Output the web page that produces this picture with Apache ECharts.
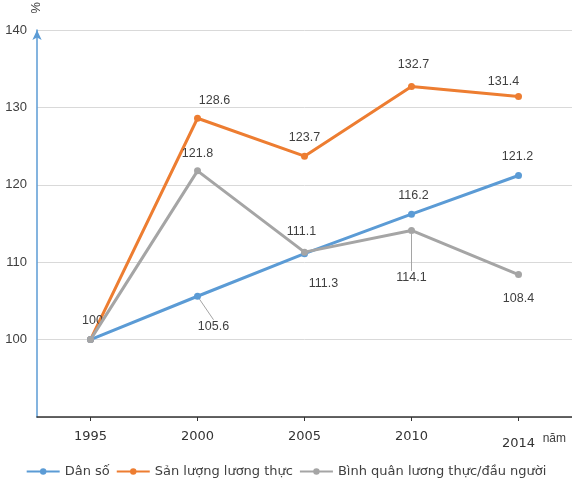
<!DOCTYPE html>
<html><head><meta charset="utf-8">
<script src="https://cdn.jsdelivr.net/npm/echarts@6/dist/echarts.min.js"></script>
<style>html,body{margin:0;padding:0;background:#fff}#c{width:572px;height:481px}</style>
</head><body><div id="c"></div>
<script>
const years = ['1995', '2000', '2005', '2010', '2014'];
const danSo = [100, 105.6, 111.1, 116.2, 121.2];
const sanLuong = [100, 128.6, 123.7, 132.7, 131.4];
const binhQuan = [100, 121.8, 111.3, 114.1, 108.4];
const seriesNames = ['Dân số', 'Sản lượng lương thực', 'Bình quân lương thực/đầu người'];
const yTicks = [90, 100, 110, 120, 130, 140];

const font = 'Liberation Sans, Arial, sans-serif';
const dfont = 'DejaVu Sans, sans-serif';
const labelStyle = { show: true, position: 'top', distance: 9, color: '#404040', fontSize: 12.5, fontFamily: font };
const guide = { show: true, lineStyle: { color: '#A5A5A5', width: 1 } };

// per-point label placement tweaks (styling only)
const blueLabel = [{}, {}, {}, {}, {}];
const blueShift = [[2, 0], [16, 49], [-3, -3], [2, 0], [-1, 0]];
const blueGuide = [false, true, false, false, false];
const orangeLabel = [{ show: false }, {}, {}, {}, {}];
const orangeShift = [[0, 0], [17, 1], [0, 0], [2, -3], [-15, 4]];
const grayLabel = [{ show: false }, {}, { position: 'bottom' }, { position: 'bottom' }, { position: 'bottom' }];
const grayShift = [[0, 0], [0, 2], [19, 12], [0, 28], [0, 5]];
const grayGuide = [false, false, false, true, false];

function build(values, tweaks, guides) {
  return values.map((v, i) => ({
    value: v, label: tweaks[i],
    labelLine: guides && guides[i] ? guide : { show: false }
  }));
}
function shifter(shifts) {
  return p => ({ dx: shifts[p.dataIndex][0], dy: shifts[p.dataIndex][1] });
}

const chart = echarts.init(document.getElementById('c'));
chart.setOption({
  animation: false,
  backgroundColor: '#fff',
  grid: { left: 37, right: 0, top: 30, bottom: 64, containLabel: false },
  legend: {
    top: 460, left: 'center', itemWidth: 33, itemHeight: 8, itemGap: 6,
    textStyle: { color: '#404040', fontSize: 13, fontFamily: dfont },
    data: seriesNames
  },
  xAxis: {
    type: 'category',
    data: years.map((y, i) => (i === years.length - 1 ? { value: y, textStyle: { padding: [7, 0, 0, 0] } } : y)),
    boundaryGap: true,
    axisLine: { lineStyle: { color: '#333', width: 1.5 } },
    axisTick: { show: true, alignWithLabel: true, length: 4, lineStyle: { color: '#333' } },
    axisLabel: { color: '#333', fontSize: 13, fontFamily: dfont, margin: 13 },
    splitLine: { show: false }
  },
  yAxis: {
    type: 'value', min: yTicks[0], max: yTicks[yTicks.length - 1], interval: 10,
    axisLine: { show: true, symbol: ['none', 'arrow'], symbolSize: [7, 10], lineStyle: { color: '#5B9BD5', width: 1.5 } },
    axisTick: { show: false },
    axisLabel: { color: '#404040', fontSize: 13, fontFamily: font, margin: 10,
      formatter: v => (v === yTicks[0] ? '' : String(v)) },
    splitLine: { lineStyle: { color: '#d9d9d9', width: 1 } }
  },
  graphic: [
    { type: 'text', left: 28, top: 2, rotation: -Math.PI / 2,
      style: { text: '%', fill: '#404040', fontSize: 13, fontFamily: font } },
    { type: 'text', right: 6, top: 433,
      style: { text: 'năm', fill: '#404040', fontSize: 12, fontFamily: font } }
  ],
  series: [
    {
      name: seriesNames[0], type: 'line', data: build(danSo, blueLabel, blueGuide),
      symbol: 'circle', symbolSize: 7,
      itemStyle: { color: '#5B9BD5' }, lineStyle: { width: 3, color: '#5B9BD5' },
      label: labelStyle, labelLine: { show: false },
      labelLayout: shifter(blueShift),
      z: 3
    },
    {
      name: seriesNames[1], type: 'line', data: build(sanLuong, orangeLabel, null),
      symbol: 'circle', symbolSize: 7,
      itemStyle: { color: '#ED7D31' }, lineStyle: { width: 3, color: '#ED7D31' },
      label: labelStyle, labelLine: { show: false },
      labelLayout: shifter(orangeShift),
      z: 2
    },
    {
      name: seriesNames[2], type: 'line', data: build(binhQuan, grayLabel, grayGuide),
      symbol: 'circle', symbolSize: 7,
      itemStyle: { color: '#A5A5A5' }, lineStyle: { width: 3, color: '#A5A5A5' },
      label: Object.assign({}, labelStyle), labelLine: { show: false },
      labelLayout: shifter(grayShift),
      z: 4
    }
  ]
});
</script></body></html>
